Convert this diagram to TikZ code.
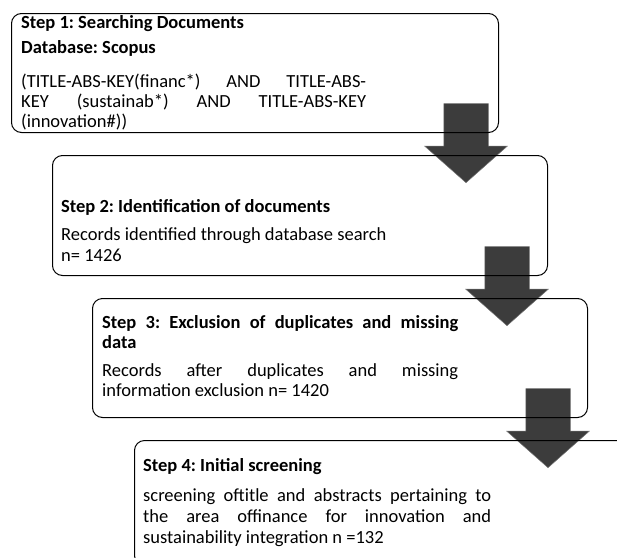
\documentclass[tikz,border=0pt]{standalone}
\usepackage{fontspec}
\setmainfont{Carlito}
\usetikzlibrary{shapes.arrows}
\definecolor{arrowgray}{RGB}{60,60,60}

\begin{document}
\begin{tikzpicture}[x=1pt, y=-1pt,
  stepbox/.style={draw, line width=1pt, rounded corners=10pt, minimum width=495pt, minimum height=119pt, anchor=north west},
  steptext/.style={text width=352pt, align=justify, inner sep=0pt, anchor=base west, font=\fontsize{18.5}{21}\selectfont\frenchspacing},
  downarrow/.style={single arrow, shape border rotate=270, draw=black!55, line width=0.5pt, fill=arrowgray, minimum height=79pt, single arrow head extend=19pt, single arrow tip angle=97, inner sep=22pt, anchor=tip}]

\clip (0,0) rectangle (617,557);

% Arrows between the steps
\node[downarrow] (a1) at (466,183) {};
\node[downarrow] (a2) at (507,326) {};
\node[downarrow] (a3) at (548,468) {};

% Boxes
\node[stepbox, minimum width=487pt] (b1) at (11,13) {};
\node[stepbox, minimum height=120pt] (b2) at (52,155) {};
\node[stepbox] (b3) at (92,298) {};
\node[stepbox, minimum height=125pt] (b4) at (134,440) {};

% Texts
\node[steptext, text width=345pt] (t1) at ([shift={(10,15)}]b1.north west) {%
  \textbf{Step 1: Searching Documents}\par\vspace{4pt}
  \textbf{Database: Scopus}\par\vspace{14pt}
  {\baselineskip=20pt (TITLE-ABS-KEY(financ*) AND TITLE-ABS-\linebreak KEY (sustainab*) AND TITLE-ABS-KEY\linebreak (innovation\#))\par}};
\node[steptext] (t2) at ([shift={(9,57)}]b2.north west) {%
  \textbf{Step 2: Identification of documents}\par\vspace{7pt}
  Records identified through database search\newline n= 1426};
\node[steptext, text width=356pt] (t3) at ([shift={(10,30)}]b3.north west) {%
  {\baselineskip=20pt \textbf{Step 3: Exclusion of duplicates and missing\linebreak data}\par}\vspace{8pt}
  {\baselineskip=20pt Records after duplicates and missing\linebreak information exclusion n= 1420\par}};
\node[steptext, text width=348pt] (t4) at ([shift={(9,31)}]b4.north west) {%
  \textbf{Step 4: Initial screening}\par\vspace{9pt}
  screening oftitle and abstracts pertaining to\linebreak the area offinance for innovation and\linebreak sustainability integration n =132};

\end{tikzpicture}
\end{document}
